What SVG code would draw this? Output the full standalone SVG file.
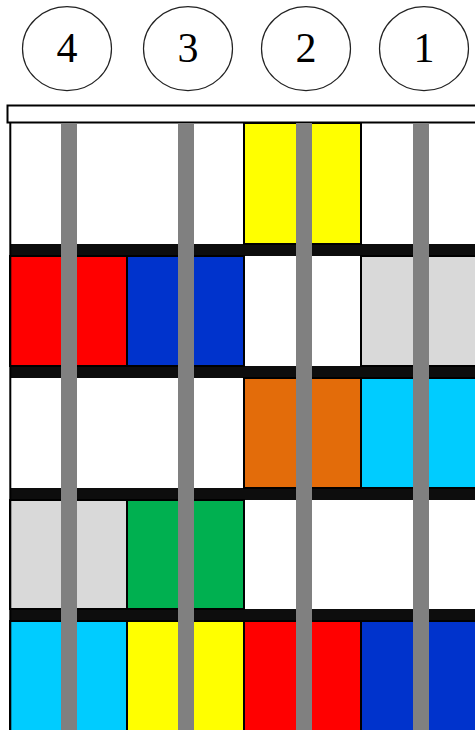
<svg xmlns="http://www.w3.org/2000/svg" width="475" height="730" viewBox="0 0 475 730">
<style>
.c{fill:#fff;stroke:#222;stroke-width:1.2}
.t{font-family:"Liberation Serif",serif;font-size:42px;text-anchor:middle;fill:#000}
.band{fill:#0d0d0d}
.cell{stroke:#000;stroke-width:2}
.bar{fill:#808080}
</style>
<rect width="475" height="730" fill="#fff"/>
<g id="n4"><ellipse class="c" cx="67" cy="48.7" rx="44.5" ry="42"/><text class="t" x="67" y="61.5">4</text></g>
<g id="n3"><ellipse class="c" cx="188" cy="48.7" rx="44.5" ry="42"/><text class="t" x="188" y="61.5">3</text></g>
<g id="n2"><ellipse class="c" cx="306" cy="48.7" rx="44.5" ry="42"/><text class="t" x="306" y="61.5">2</text></g>
<g id="n1"><ellipse class="c" cx="424" cy="48.7" rx="44.5" ry="42"/><text class="t" x="424" y="61.5">1</text></g>
<g id="grid">
<rect x="7.5" y="105.5" width="480" height="17" fill="#fff" stroke="#000" stroke-width="2"/>
<rect class="band" x="10" y="244" width="470" height="12"/>
<rect class="band" x="10" y="366" width="470" height="12"/>
<rect class="band" x="10" y="488" width="470" height="12"/>
<rect class="band" x="10" y="609" width="470" height="12"/>
<rect class="cell" x="244" y="123" width="117" height="121" fill="#ffff00"/>
<rect class="cell" x="10" y="256" width="117" height="110" fill="#ff0000"/>
<rect class="cell" x="127" y="256" width="117" height="110" fill="#0033cc"/>
<rect class="cell" x="361" y="256" width="120" height="110" fill="#d9d9d9"/>
<rect class="cell" x="244" y="378" width="117" height="110" fill="#e36c0a"/>
<rect class="cell" x="361" y="378" width="120" height="110" fill="#00ccff"/>
<rect class="cell" x="10" y="500" width="117" height="109" fill="#d9d9d9"/>
<rect class="cell" x="127" y="500" width="117" height="109" fill="#00b050"/>
<rect class="cell" x="10" y="621" width="117" height="115" fill="#00ccff"/>
<rect class="cell" x="127" y="621" width="117" height="115" fill="#ffff00"/>
<rect class="cell" x="244" y="621" width="117" height="115" fill="#ff0000"/>
<rect class="cell" x="361" y="621" width="120" height="115" fill="#0033cc"/>
<line x1="10.3" y1="123" x2="10.3" y2="730" stroke="#000" stroke-width="2"/>
</g>
<g id="connectors">
<rect class="bar" x="61" y="123" width="16" height="607"/>
<rect class="bar" x="178" y="123" width="16" height="607"/>
<rect class="bar" x="296" y="123" width="16" height="607"/>
<rect class="bar" x="413" y="123" width="16" height="607"/>
</g>
</svg>
